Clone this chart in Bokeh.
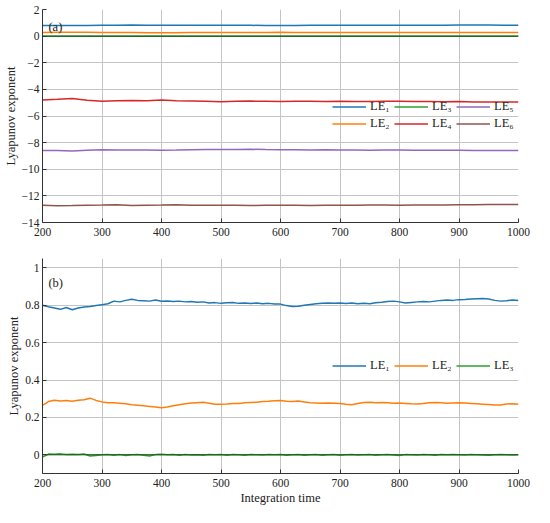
from bokeh.plotting import figure
from bokeh.layouts import column
from bokeh.models import Legend, LegendItem, Label, Span, FixedTicker, CustomJSTickFormatter, Range1d
from bokeh.embed import file_html
from bokeh.resources import INLINE

# ---------------- data ----------------
t_a = list(range(200, 1001, 25))
le1_a = [0.80, 0.79, 0.79, 0.80, 0.81, 0.82, 0.83, 0.82, 0.82, 0.82, 0.82, 0.81, 0.81, 0.81, 0.81, 0.80, 0.80,
         0.80, 0.81, 0.81, 0.81, 0.81, 0.81, 0.81, 0.82, 0.82, 0.82, 0.82, 0.83, 0.83, 0.83, 0.82, 0.82]
le2_a = [0.27, 0.29, 0.29, 0.30, 0.28, 0.28, 0.27, 0.26, 0.25, 0.26, 0.27, 0.28, 0.27, 0.27, 0.28, 0.28, 0.29,
         0.28, 0.28, 0.27, 0.27, 0.28, 0.28, 0.28, 0.28, 0.27, 0.28, 0.28, 0.28, 0.27, 0.27, 0.27, 0.27]
le3_a = [0.00, 0.00, 0.00, -0.01, 0.00, 0.00, 0.00, -0.01, 0.00, 0.00, 0.00, 0.00, 0.00, 0.00, 0.00, 0.00, 0.00,
         0.00, 0.00, 0.00, 0.00, 0.00, 0.00, 0.00, 0.00, 0.00, 0.00, 0.00, 0.00, 0.00, 0.00, 0.00, 0.00]
le4_a = [-4.80, -4.75, -4.68, -4.82, -4.90, -4.86, -4.84, -4.85, -4.80, -4.86, -4.88, -4.90, -4.93, -4.90, -4.88,
         -4.90, -4.92, -4.90, -4.89, -4.91, -4.90, -4.92, -4.91, -4.90, -4.90, -4.92, -4.91, -4.93, -4.92, -4.94,
         -4.95, -4.94, -4.94]
le5_a = [-8.60, -8.60, -8.63, -8.57, -8.53, -8.56, -8.55, -8.56, -8.57, -8.56, -8.54, -8.52, -8.52, -8.51, -8.50,
         -8.52, -8.53, -8.54, -8.55, -8.54, -8.55, -8.56, -8.57, -8.56, -8.56, -8.57, -8.58, -8.57, -8.58, -8.59,
         -8.59, -8.60, -8.60]
le6_a = [-12.70, -12.74, -12.73, -12.70, -12.69, -12.66, -12.72, -12.70, -12.69, -12.67, -12.70, -12.71, -12.70,
         -12.71, -12.72, -12.71, -12.70, -12.71, -12.72, -12.71, -12.70, -12.70, -12.69, -12.69, -12.70, -12.69,
         -12.68, -12.68, -12.67, -12.66, -12.65, -12.65, -12.65]

t_b = list(range(200, 1001, 10))
le1_b = [0.800, 0.792, 0.785, 0.778, 0.788, 0.776, 0.785, 0.790, 0.793, 0.798,
         0.803, 0.808, 0.822, 0.818, 0.826, 0.832, 0.826, 0.824, 0.822, 0.828,
         0.821, 0.823, 0.820, 0.822, 0.818, 0.820, 0.816, 0.818, 0.812, 0.814,
         0.810, 0.813, 0.815, 0.810, 0.812, 0.809, 0.812, 0.808, 0.810, 0.806,
         0.806, 0.798, 0.793, 0.795, 0.800, 0.804, 0.808, 0.810, 0.812, 0.810,
         0.812, 0.809, 0.812, 0.808, 0.810, 0.808, 0.813, 0.816, 0.820, 0.822,
         0.818, 0.812, 0.815, 0.818, 0.820, 0.818, 0.822, 0.826, 0.828, 0.826,
         0.830, 0.831, 0.833, 0.835, 0.836, 0.833, 0.826, 0.822, 0.824, 0.828,
         0.826]
le2_b = [0.265, 0.285, 0.292, 0.288, 0.290, 0.287, 0.292, 0.294, 0.303, 0.291,
         0.283, 0.279, 0.278, 0.276, 0.273, 0.268, 0.265, 0.262, 0.259, 0.256,
         0.252, 0.256, 0.262, 0.268, 0.273, 0.277, 0.279, 0.281, 0.276, 0.270,
         0.270, 0.272, 0.275, 0.274, 0.278, 0.280, 0.281, 0.285, 0.286, 0.289,
         0.290, 0.287, 0.285, 0.288, 0.283, 0.278, 0.277, 0.276, 0.277, 0.276,
         0.274, 0.270, 0.268, 0.274, 0.280, 0.281, 0.279, 0.280, 0.278, 0.276,
         0.277, 0.275, 0.273, 0.272, 0.274, 0.278, 0.280, 0.278, 0.276, 0.277,
         0.278, 0.277, 0.275, 0.273, 0.271, 0.269, 0.266, 0.267, 0.272, 0.273,
         0.271]
le3_b = [-0.012, 0.004, 0.003, 0.005, 0.001, 0.003, 0.002, 0.004, -0.006, -0.004,
         0.000, 0.002, -0.002, 0.001, -0.004, 0.000, 0.002, -0.002, -0.006, 0.001,
         0.003, 0.000, 0.002, -0.003, 0.001, -0.001, 0.000, -0.003, 0.002, 0.000,
         0.001, -0.002, 0.001, 0.000, -0.002, 0.001, 0.000, -0.001, 0.001, 0.000,
         0.001, -0.002, 0.000, 0.001, -0.003, 0.000, 0.001, -0.002, 0.000, 0.001,
         -0.003, 0.000, 0.001, -0.001, 0.000, 0.002, -0.002, 0.000, 0.001, -0.001,
         -0.004, 0.001, 0.000, -0.001, 0.001, 0.000, -0.002, 0.001, 0.000, 0.001,
         0.000, -0.001, 0.001, 0.000, -0.001, -0.003, 0.000, 0.001, 0.000, -0.001,
         0.000]

x_ticks = [200, 300, 400, 500, 600, 700, 800, 900, 1000]
y_ticks_a = [-14, -12, -10, -8, -6, -4, -2, 0, 2]
y_ticks_b = [0, 0.2, 0.4, 0.6, 0.8, 1]

labels_a = ["LE\u2081", "LE\u2082", "LE\u2083", "LE\u2084", "LE\u2085", "LE\u2086"]
labels_b = ["LE\u2081", "LE\u2082", "LE\u2083"]
colors = ["#1f77b4", "#ff7f0e", "#2ca02c", "#d62728", "#9467bd", "#8c564b"]

FONT = "'Liberation Serif', 'Times New Roman', serif"
fmt = CustomJSTickFormatter(code="return tick < 0 ? '\\u2212' + Math.abs(tick) : '' + tick;")


def style(p, yticks, xlabel):
    p.outline_line_color = None
    p.xaxis.ticker = FixedTicker(ticks=x_ticks)
    p.yaxis.ticker = FixedTicker(ticks=yticks)
    p.xaxis.formatter = fmt
    p.yaxis.formatter = fmt
    for ax in (p.xaxis[0], p.yaxis[0]):
        ax.major_tick_in = 4
        ax.major_tick_out = 0
        ax.minor_tick_line_color = None
        ax.axis_line_color = "#333333"
        ax.major_tick_line_color = "#333333"
        ax.major_label_text_font = FONT
        ax.major_label_text_font_size = "11.5px"
        ax.major_label_text_color = "#222222"
        ax.axis_label_text_font = FONT
        ax.axis_label_text_font_size = "12.5px"
        ax.axis_label_text_font_style = "normal"
        ax.axis_label_text_color = "#222222"
        ax.axis_label_standoff = 1
    p.xaxis.major_label_standoff = 5
    p.yaxis.major_label_standoff = 3
    p.yaxis.axis_label = "Lyapunov exponent"
    if xlabel:
        p.xaxis.axis_label = xlabel
    p.xgrid.grid_line_color = "#c4c4c4"
    p.ygrid.grid_line_color = "#c4c4c4"
    p.xgrid.grid_line_width = 1
    p.ygrid.grid_line_width = 1


legend_style = dict(glyph_width=34, glyph_height=15, label_height=15, label_width=22,
                    label_standoff=4, spacing=2, padding=0, margin=0,
                    border_line_color=None, background_fill_alpha=0,
                    label_text_font=FONT, label_text_font_size="12.5px", label_text_color="#222222")

# ---------------- panel (a) ----------------
pa = figure(width=534, height=240, output_backend="svg", toolbar_location=None,
            x_range=Range1d(200, 1000), y_range=Range1d(-14, 2),
            min_border_left=38, min_border_right=16, min_border_top=9, min_border_bottom=18)
style(pa, y_ticks_a, None)
series_a = [le1_a, le2_a, le3_a, le4_a, le5_a, le6_a]
rends_a = []
for ys, c in zip(series_a, colors):
    rends_a.append(pa.line(t_a, ys, line_color=c, line_width=1.5))
pa.add_layout(Span(location=0, dimension="width", line_color="#1b4d1b", line_width=1))
leg_a = Legend(items=[LegendItem(label=l, renderers=[r]) for l, r in zip(labels_a, rends_a)],
               location=(290, 91), orientation="vertical", nrows=2, **legend_style)
pa.add_layout(leg_a)
pa.add_layout(Label(x=210, y=0.72, text="(a)", text_font=FONT, text_font_size="12.5px",
                    text_baseline="middle", text_color="#222222"))

# ---------------- panel (b) ----------------
pb = figure(width=534, height=267, output_backend="svg", toolbar_location=None,
            x_range=Range1d(200, 1000), y_range=Range1d(-0.1, 1.05),
            min_border_left=38, min_border_right=16, min_border_top=18, min_border_bottom=34)
style(pb, y_ticks_b, "Integration time")
series_b = [le1_b, le2_b, le3_b]
rends_b = []
for ys, c in zip(series_b, colors[:3]):
    rends_b.append(pb.line(t_b, ys, line_color=c, line_width=1.5))
pb.add_layout(Span(location=0, dimension="width", line_color="#1b4d1b", line_width=1))
leg_b = Legend(items=[LegendItem(label=l, renderers=[r]) for l, r in zip(labels_b, rends_b)],
               location=(290, 100), orientation="horizontal", **legend_style)
pb.add_layout(leg_b)
pb.add_layout(Label(x=210, y=0.918, text="(b)", text_font=FONT, text_font_size="12.5px",
                    text_baseline="middle", text_color="#222222"))

layout = column(pa, pb, spacing=0)
open("out.html", "w").write(file_html(layout, INLINE))
